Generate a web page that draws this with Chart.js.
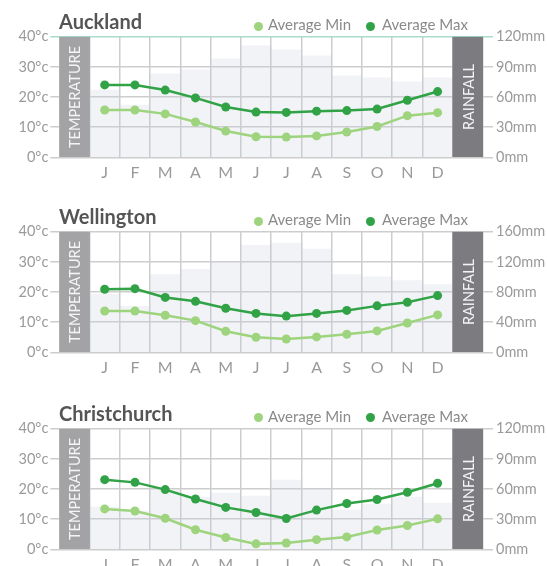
<!DOCTYPE html>
<html><head><meta charset="utf-8">
<script src="https://cdn.jsdelivr.net/npm/chart.js@4"></script>
<style>
html,body{margin:0;padding:0;background:#fff;width:547px;height:566px;overflow:hidden;font-family:Lato,sans-serif}
.panel{position:absolute;left:0;width:547px;height:195px}
.title{position:absolute;left:59px;top:11px;font:700 20px/20px Lato,sans-serif;color:#555;white-space:nowrap}
.leg{position:absolute;top:17px;font:400 15px/15px Lato,sans-serif;color:#8a8a8a;white-space:nowrap}
.dot{position:absolute;top:21.5px;width:9px;height:9px;border-radius:50%}
</style>
</head><body>
<div class="panel" id="p0" style="top:0px"><canvas id="c0"></canvas></div>
<div class="panel" id="p1" style="top:195px"><canvas id="c1"></canvas></div>
<div class="panel" id="p2" style="top:391.6px"><canvas id="c2"></canvas></div>
<script>
// ---- data ----
const months = ['J','F','M','A','M','J','J','A','S','O','N','D'];
const cities = ['Auckland','Wellington','Christchurch'];

const aucklandMax  = [24.0, 24.0, 22.3, 19.7, 16.7, 15.0, 14.9, 15.3, 15.5, 16.0, 18.9, 21.8];
const aucklandMin  = [15.7, 15.7, 14.4, 11.7, 8.7, 6.8, 6.7, 7.1, 8.4, 10.2, 13.8, 14.8];
const aucklandRain = [67, 52, 83, 87, 98, 111, 107, 101, 81, 79, 75, 79];

const wellingtonMax  = [20.9, 21.1, 18.2, 16.9, 14.6, 12.9, 12.0, 12.9, 13.9, 15.4, 16.6, 18.8];
const wellingtonMin  = [13.7, 13.7, 12.3, 10.5, 7.0, 5.0, 4.4, 5.1, 6.0, 7.1, 9.7, 12.4];
const wellingtonRain = [77, 61, 103, 110, 120, 142, 145, 137, 103, 100, 95, 90];

const christchurchMax  = [23.1, 22.2, 19.8, 16.7, 13.9, 12.2, 10.2, 13.0, 15.2, 16.5, 18.9, 21.9];
const christchurchMin  = [13.4, 12.7, 10.3, 6.5, 3.9, 1.8, 2.1, 3.2, 4.1, 6.4, 7.9, 10.1];
const christchurchRain = [42, 38, 59, 52, 56, 53, 69, 60, 39, 45, 52, 46];

const tempTicks = [0, 10, 20, 30, 40];
const rainAxisMax = [120, 160, 120];
const rainAxisStep = [30, 40, 30];

const legendLabels = ['Average Min', 'Average Max'];
const bandLabels = ['TEMPERATURE', 'RAINFALL'];

// ---- styles ----
const MIN_C = '#9ed47d';
const MAX_C = '#31a346';
const GRID_C = '#cdcdcd';
const TICK_C = '#9a9a9a';
const BAND_L = '#a3a3a6';
const BAND_R = '#7c7c80';
const RAIN_C = 'rgba(200,206,218,0.25)';

const bandPlugin = {
  id: 'bandText',
  afterDatasetsDraw(chart) {
    const {ctx, chartArea, scales} = chart;
    const cy = (chartArea.top + chartArea.bottom) / 2;
    [[0, bandLabels[0]], [13, bandLabels[1]]].forEach(([i, txt]) => {
      const cx = scales.x.getPixelForValue(i);
      ctx.save();
      ctx.translate(cx, cy);
      ctx.rotate(-Math.PI / 2);
      ctx.font = '400 14.5px Lato, sans-serif';
      ctx.fillStyle = '#f4f4f4';
      ctx.textAlign = 'center';
      ctx.textBaseline = 'middle';
      ctx.fillText(txt, 0, 1);
      ctx.restore();
    });
  }
};

function addHeader(panel, name) {
  const t = document.createElement('div');
  t.className = 'title'; t.textContent = name; panel.appendChild(t);
  const items = [[258, 268, MIN_C, legendLabels[0]], [370.5, 382, MAX_C, legendLabels[1]]];
  items.forEach(([dx, tx, col, lab]) => {
    const d = document.createElement('div');
    d.className = 'dot'; d.style.left = (dx - 4.5) + 'px'; d.style.background = col;
    panel.appendChild(d);
    const l = document.createElement('div');
    l.className = 'leg'; l.style.left = tx + 'px'; l.textContent = lab;
    panel.appendChild(l);
  });
}

function makeChart(idx, minD, maxD, rainD) {
  const panel = document.getElementById('p' + idx);
  const canvas = document.getElementById('c' + idx);
  addHeader(panel, cities[idx]);
  const pad = v => [null, ...v, null];
  const teal = idx === 0;
  new Chart(canvas, {
    type: 'bar',
    data: {
      labels: ['', ...months, ''],
      datasets: [
        {type: 'line', label: legendLabels[0], data: pad(minD), yAxisID: 'y',
         borderColor: MIN_C, backgroundColor: MIN_C, borderWidth: 2.5,
         pointRadius: 4.5, pointBorderWidth: 0, pointHoverRadius: 4.5, tension: 0, order: 0},
        {type: 'line', label: legendLabels[1], data: pad(maxD), yAxisID: 'y',
         borderColor: MAX_C, backgroundColor: MAX_C, borderWidth: 2.5,
         pointRadius: 4.5, pointBorderWidth: 0, pointHoverRadius: 4.5, tension: 0, order: 0},
        {type: 'bar', label: 'bands', data: [tempTicks[4], ...months.map(() => null), tempTicks[4]], yAxisID: 'y',
         backgroundColor: [BAND_L, ...months.map(() => BAND_L), BAND_R], grouped: false,
         barPercentage: 1, categoryPercentage: 1, borderWidth: 0, order: 1},
        {type: 'bar', label: 'Rainfall', data: pad(rainD), yAxisID: 'y2',
         backgroundColor: RAIN_C, grouped: false,
         barPercentage: 1, categoryPercentage: 1, borderWidth: 0, order: 2}
      ]
    },
    options: {
      responsive: true, maintainAspectRatio: false, animation: false,
      layout: {padding: {top: 36.7, left: 0, right: 0, bottom: 0}},
      plugins: {legend: {display: false}, tooltip: {enabled: false}, title: {display: false}},
      events: [],
      scales: {
        x: {
          offset: true,
          grid: {offset: true, color: GRID_C, lineWidth: 1.5, drawTicks: false},
          border: {display: false},
          ticks: {color: TICK_C, font: {family: 'Lato', size: 16, weight: 400}, padding: 6, autoSkip: false, maxRotation: 0},
          afterFit(s) { s.height = 37.7; }
        },
        y: {
          position: 'left', min: 0, max: 40,
          ticks: {stepSize: 10, color: TICK_C, font: {family: 'Lato', size: 14.5}, padding: 2,
                  callback: v => v + '°c'},
          grid: {color: c => (teal && c.tick && c.tick.value === 40) ? '#a9dccf' : GRID_C,
                 tickColor: c => (teal && c.tick && c.tick.value === 40) ? '#a9dccf' : GRID_C,
                 lineWidth: 1.5, tickLength: 9},
          border: {display: false},
          afterFit(s) { s.width = 59.3; }
        },
        y2: {
          position: 'right', min: 0, max: rainAxisMax[idx],
          ticks: {stepSize: rainAxisStep[idx], color: TICK_C, font: {family: 'Lato', size: 14.5}, padding: 3,
                  callback: v => v + 'mm'},
          grid: {drawOnChartArea: false, color: c => (teal && c.tick && c.tick.value === rainAxisMax[idx]) ? '#a9dccf' : GRID_C,
                 lineWidth: 1.5, tickLength: 10},
          border: {display: false},
          afterFit(s) { s.width = 64; }
        }
      }
    },
    plugins: [bandPlugin]
  });
}

makeChart(0, aucklandMin, aucklandMax, aucklandRain);
makeChart(1, wellingtonMin, wellingtonMax, wellingtonRain);
makeChart(2, christchurchMin, christchurchMax, christchurchRain);
</script>
</body></html>
